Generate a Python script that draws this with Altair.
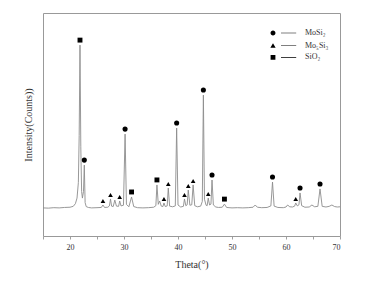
import altair as alt
import pandas as pd

theta = [15.0, 16.0, 17.0, 18.0, 19.0, 20.0, 20.6, 21.0, 21.3, 21.55, 21.7, 21.85, 22.0, 22.15, 22.3, 22.5, 22.65, 22.8, 23.0, 23.4, 24.0, 25.0, 25.8, 26.1, 26.4, 27.0, 27.3, 27.5, 27.7, 28.0, 28.3, 28.6, 29.0, 29.2, 29.45, 29.9, 30.2, 30.45, 30.9, 31.4, 31.8, 32.5, 33.5, 34.5, 35.5, 35.9, 36.1, 36.35, 36.6, 36.9, 37.2, 37.4, 37.65, 38.0, 38.2, 38.45, 39.0, 39.5, 39.75, 40.0, 40.5, 41.0, 41.2, 41.45, 41.7, 41.9, 42.2, 42.55, 42.8, 43.1, 43.6, 44.2, 44.5, 44.7, 44.9, 45.2, 45.4, 45.6, 45.85, 46.1, 46.3, 46.55, 47.0, 47.5, 48.2, 48.6, 49.0, 50.0, 51.0, 52.0, 53.0, 53.9, 54.3, 54.7, 55.5, 56.5, 57.2, 57.5, 57.8, 58.5, 59.5, 60.0, 60.3, 60.7, 61.2, 61.6, 61.8, 62.1, 62.4, 62.6, 62.9, 63.5, 64.3, 64.8, 65.3, 65.9, 66.3, 66.7, 67.4, 68.0, 68.5, 69.0, 69.5, 70.0]
intensity = [12.6, 12.5, 12.7, 12.6, 12.8, 12.9, 13.3, 14.5, 17.0, 24.0, 45.0, 85.6, 40.0, 20.0, 17.0, 20.0, 31.8, 15.0, 13.2, 12.8, 12.6, 12.7, 12.8, 13.9, 12.8, 12.9, 13.5, 16.6, 13.4, 13.2, 16.1, 13.4, 13.3, 15.7, 13.5, 13.8, 45.7, 14.2, 13.1, 17.5, 13.2, 12.7, 12.6, 12.7, 12.9, 13.6, 22.9, 14.2, 15.7, 13.4, 13.2, 14.8, 13.2, 13.5, 21.5, 13.4, 13.1, 13.5, 48.4, 13.9, 13.0, 13.3, 16.6, 13.6, 14.0, 20.6, 13.8, 14.0, 22.9, 13.6, 13.1, 13.4, 15.5, 63.2, 16.5, 13.8, 13.6, 17.0, 13.9, 14.3, 25.1, 13.9, 13.0, 12.8, 12.9, 14.3, 12.8, 12.6, 12.7, 12.6, 12.7, 12.9, 13.9, 12.9, 12.7, 12.8, 13.5, 24.2, 13.4, 12.8, 12.7, 13.0, 13.9, 13.1, 13.0, 13.4, 14.8, 13.5, 14.0, 19.3, 13.6, 12.9, 13.0, 13.9, 13.1, 13.3, 21.1, 13.3, 13.0, 13.3, 13.9, 13.2, 13.0, 13.1]

phases = ["MoSi\u2082", "Mo\u2085Si\u2083", "SiO\u2082"]
mosi2_theta = [22.65, 30.2, 39.75, 44.7, 46.3, 57.5, 62.6, 66.3]
mosi2_int = [31.8, 45.7, 48.4, 63.2, 25.1, 24.2, 19.3, 21.1]
mo5si3_theta = [26.1, 27.5, 29.2, 37.4, 38.2, 41.2, 41.9, 42.8, 45.6, 61.8]
mo5si3_int = [13.9, 16.6, 15.7, 14.8, 21.5, 16.6, 20.6, 22.9, 17.0, 14.8]
sio2_theta = [21.85, 31.4, 36.1, 48.6]
sio2_int = [85.6, 17.5, 22.9, 14.3]

trace = pd.DataFrame({"theta": theta, "intensity": intensity})
df_mosi2 = pd.DataFrame({"theta": mosi2_theta, "intensity": mosi2_int})
df_mo5si3 = pd.DataFrame({"theta": mo5si3_theta, "intensity": mo5si3_int})
df_sio2 = pd.DataFrame({"theta": sio2_theta, "intensity": sio2_int})
df_leg = pd.DataFrame({"theta": [15.0, 15.0, 15.0], "intensity": [0.0, 0.0, 0.0], "legend": phases})

FONT = "Liberation Serif"
FRAME = "#999"
xscale = alt.Scale(domain=[15, 70], nice=False)
yscale = alt.Scale(domain=[0, 100], nice=False)

xenc = alt.X("theta:Q", scale=xscale, axis=alt.Axis(
    title="Theta(\u00b0)", values=list(range(15, 71, 5)),
    labelExpr="datum.value % 10 == 0 && datum.value > 15 ? datum.label : ''",
    grid=False, domain=True, domainColor=FRAME, domainWidth=1,
    tickSize=3, tickColor="#888", tickWidth=0.8,
    labelFont=FONT, labelFontSize=8, labelColor="#333", labelPadding=4,
    titleFont=FONT, titleFontSize=10, titleFontWeight="normal", titleColor="#333",
    titlePadding=8))
yenc = alt.Y("intensity:Q", scale=yscale, axis=alt.Axis(
    title="Intensity(Counts))", labels=False, ticks=False, grid=False,
    domain=True, domainColor=FRAME, domainWidth=1,
    titleFont=FONT, titleFontSize=10, titleFontWeight="normal", titleColor="#333",
    titlePadding=10))

line = alt.Chart(trace).mark_line(color="#8c8c8c", strokeWidth=0.9).encode(x=xenc, y=yenc)

def pts(df, shape, size, off):
    return alt.Chart(df).mark_point(filled=True, color="black", opacity=1, shape=shape,
                                    size=size, yOffset=off).encode(
        x=alt.X("theta:Q", scale=xscale, axis=None),
        y=alt.Y("intensity:Q", scale=yscale, axis=None))

p1 = pts(df_mosi2, "circle", 26, -5)
p2 = pts(df_mo5si3, "triangle-up", 22, -4)
p3 = pts(df_sio2, "square", 24, -5)

seg = " M 2 -0.08 L 5.8 -0.08 L 5.8 0.08 L 2 0.08 Z"
leg_paths = [
    "M -0.62 0 A 0.62 0.62 0 1 0 0.62 0 A 0.62 0.62 0 1 0 -0.62 0 Z" + seg,
    "M 0 -0.62 L 0.66 0.5 L -0.66 0.5 Z" + seg,
    "M -0.6 -0.6 L 0.6 -0.6 L 0.6 0.6 L -0.6 0.6 Z" + seg,
]
frame_axis_x = alt.Axis(orient="top", labels=False, ticks=False, grid=False, title=None,
                        domain=True, domainColor=FRAME, domainWidth=1)
frame_axis_y = alt.Axis(orient="right", labels=False, ticks=False, grid=False, title=None,
                        domain=True, domainColor=FRAME, domainWidth=1)
leg = alt.Chart(df_leg).mark_point(filled=True, color="black", opacity=0, size=64).encode(
    x=alt.X("theta:Q", scale=xscale, axis=frame_axis_x),
    y=alt.Y("intensity:Q", scale=yscale, axis=frame_axis_y),
    shape=alt.Shape("legend:N", scale=alt.Scale(domain=phases, range=leg_paths),
                    legend=alt.Legend(title=None, orient="none", legendX=225, legendY=15,
                                      padding=0, rowPadding=0.7, symbolSize=64,
                                      symbolOpacity=1, symbolFillColor="black",
                                      labelOffset=27, labelFont=FONT, labelFontSize=8,
                                      labelColor="#333")))

chart = alt.layer(line, p1, p2, p3, leg).resolve_axis(x="independent", y="independent").properties(
    width=297, height=223,
    autosize=alt.AutoSizeParams(type="none"),
    padding={"left": 43, "top": 13, "right": 40, "bottom": 47},
    background="white",
).configure_view(stroke=None)

chart.save("out.html", embed_options={"renderer": "svg", "actions": False})
